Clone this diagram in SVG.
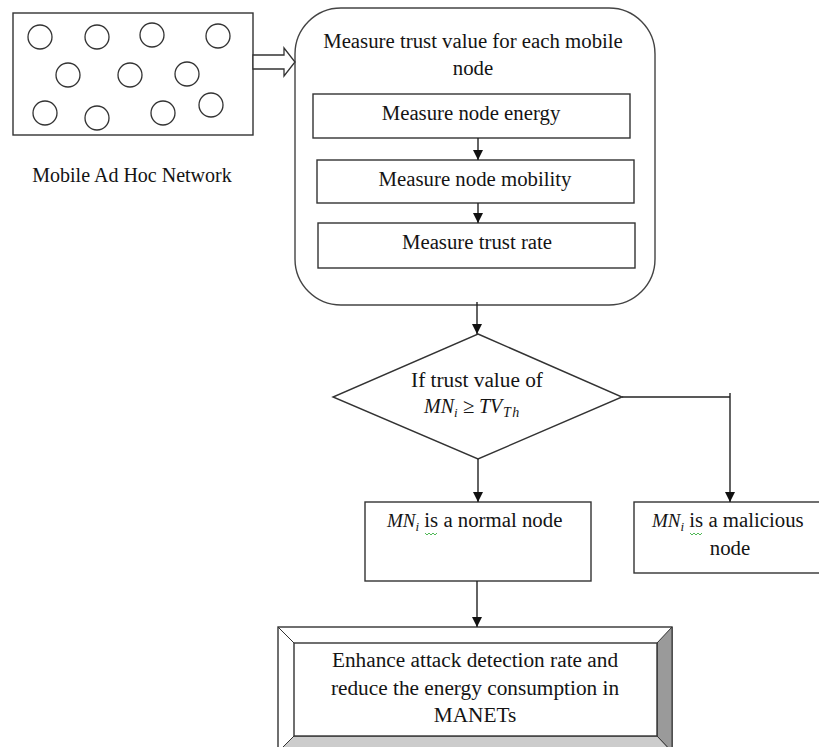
<svg xmlns="http://www.w3.org/2000/svg" width="819" height="747" viewBox="0 0 819 747">
<style>
  text { fill: #141414; }
  .c { text-anchor: middle; }
  .box { fill: #ffffff; stroke: #333333; stroke-width: 1.4; }
  .ln { fill: none; stroke: #222222; stroke-width: 1.4; }
  .circ { fill: #ffffff; stroke: #333333; stroke-width: 1.3; }
  .sq { fill: none; stroke: #3cb043; stroke-width: 0.9; }
</style>
<defs>
  <marker id="ah" markerUnits="userSpaceOnUse" markerWidth="11" markerHeight="10" refX="10" refY="5" orient="auto">
    <path d="M0,0 L10,5 L0,10 Z" fill="#111111"/>
  </marker>
</defs>
<rect width="819" height="747" fill="#ffffff"/>
<g font-family="'Liberation Serif', 'Times New Roman', serif" font-size="20.8">

<g id="network">
  <rect class="box" x="13" y="13" width="240" height="122"/>
  <circle class="circ" cx="40" cy="37" r="12"/>
  <circle class="circ" cx="97" cy="37" r="12"/>
  <circle class="circ" cx="152" cy="35" r="12"/>
  <circle class="circ" cx="218" cy="36" r="12"/>
  <circle class="circ" cx="68" cy="75" r="12"/>
  <circle class="circ" cx="130" cy="75" r="12"/>
  <circle class="circ" cx="187" cy="74" r="12"/>
  <circle class="circ" cx="45" cy="113" r="12"/>
  <circle class="circ" cx="97" cy="118" r="12"/>
  <circle class="circ" cx="163" cy="113" r="12"/>
  <circle class="circ" cx="211" cy="105" r="12"/>
  <text x="132" y="182" class="c" font-size="20">Mobile Ad Hoc Network</text>
</g>

<g id="measure-trust">
  <rect class="box" x="295" y="8" width="360" height="297" rx="46" ry="46" style="stroke:#444444"/>
  <text x="473" y="48" class="c">Measure trust value for each mobile</text>
  <text x="473" y="75" class="c">node</text>
</g>
<g id="energy">
  <rect class="box" x="313" y="94" width="317" height="44"/>
  <text x="471" y="120" class="c">Measure node energy</text>
</g>
<g id="mobility">
  <rect class="box" x="317" y="160" width="317" height="43"/>
  <text x="475" y="186" class="c">Measure node mobility</text>
</g>
<g id="trust-rate">
  <rect class="box" x="318" y="223" width="317" height="45"/>
  <text x="477" y="249" class="c">Measure trust rate</text>
</g>

<g id="decision">
  <polygon class="box" points="478,334 622,397 478,459 333,397"/>
  <text x="477" y="387" class="c" font-size="21.3">If trust value of</text>
  <text y="413"><tspan x="424" font-style="italic" font-size="20">MN</tspan><tspan x="454" dy="4" font-style="italic" font-size="13">i</tspan><tspan x="463" dy="-4">≥</tspan><tspan x="479" font-style="italic" font-size="20">TV</tspan><tspan x="503" dy="4" font-style="italic" font-size="14" letter-spacing="1.5">Th</tspan></text>
</g>

<g id="normal">
  <rect class="box" x="365" y="502" width="226" height="79"/>
  <text y="527"><tspan x="387" font-style="italic" font-size="19">MN</tspan><tspan dy="4" font-style="italic" font-size="13">i</tspan><tspan dy="-4"> is a normal node</tspan></text>
  <path class="sq" d="M425,533 l2,2 l2,-2 l2,2 l2,-2 l2,2 l2,-2"/>
</g>

<g id="malicious">
  <rect class="box" x="634" y="502" width="200" height="71"/>
  <text y="527"><tspan x="652" font-style="italic" font-size="19">MN</tspan><tspan dy="4" font-style="italic" font-size="13">i</tspan><tspan dy="-4"> is a malicious</tspan></text>
  <text x="730" y="555" class="c">node</text>
  <path class="sq" d="M690,533 l2,2 l2,-2 l2,2 l2,-2 l2,2 l2,-2"/>
</g>

<g id="result">
  <rect x="278" y="627" width="394" height="125" fill="#ffffff" stroke="#333333" stroke-width="1.4"/>
  <polygon points="657,643 672,627 672,752 657,736" fill="#9a9a9a" stroke="#333333" stroke-width="1"/>
  <polygon points="294,736 657,736 672,752 278,752" fill="#cccccc" stroke="#333333" stroke-width="1"/>
  <line x1="278" y1="627" x2="294" y2="643" stroke="#333333" stroke-width="1"/>
  <line x1="278" y1="752" x2="294" y2="736" stroke="#333333" stroke-width="1"/>
  <rect x="294" y="643" width="363" height="93" fill="#ffffff" stroke="#333333" stroke-width="1.4"/>
  <text x="475" y="667" class="c" font-size="21.3">Enhance attack detection rate and</text>
  <text x="475" y="695" class="c" font-size="21.3">reduce the energy consumption in</text>
  <text x="475" y="722" class="c" font-size="21.3">MANETs</text>
</g>

</g>
<g id="connectors">
  <polygon points="253,55 284,55 284,48 295,62 284,76 284,69 253,69" fill="#ffffff" stroke="#333333" stroke-width="1.3"/>
  <line class="ln" x1="478" y1="138" x2="478" y2="160" marker-end="url(#ah)"/>
  <line class="ln" x1="478" y1="203" x2="478" y2="223" marker-end="url(#ah)"/>
  <line class="ln" x1="477" y1="302" x2="477" y2="334" marker-end="url(#ah)"/>
  <line class="ln" x1="478" y1="459" x2="478" y2="502" marker-end="url(#ah)"/>
  <polyline class="ln" points="622,397 730,397"/>
  <line class="ln" x1="730" y1="393" x2="730" y2="502" marker-end="url(#ah)"/>
  <line class="ln" x1="477" y1="581" x2="477" y2="627" marker-end="url(#ah)"/>
</g>
</svg>
